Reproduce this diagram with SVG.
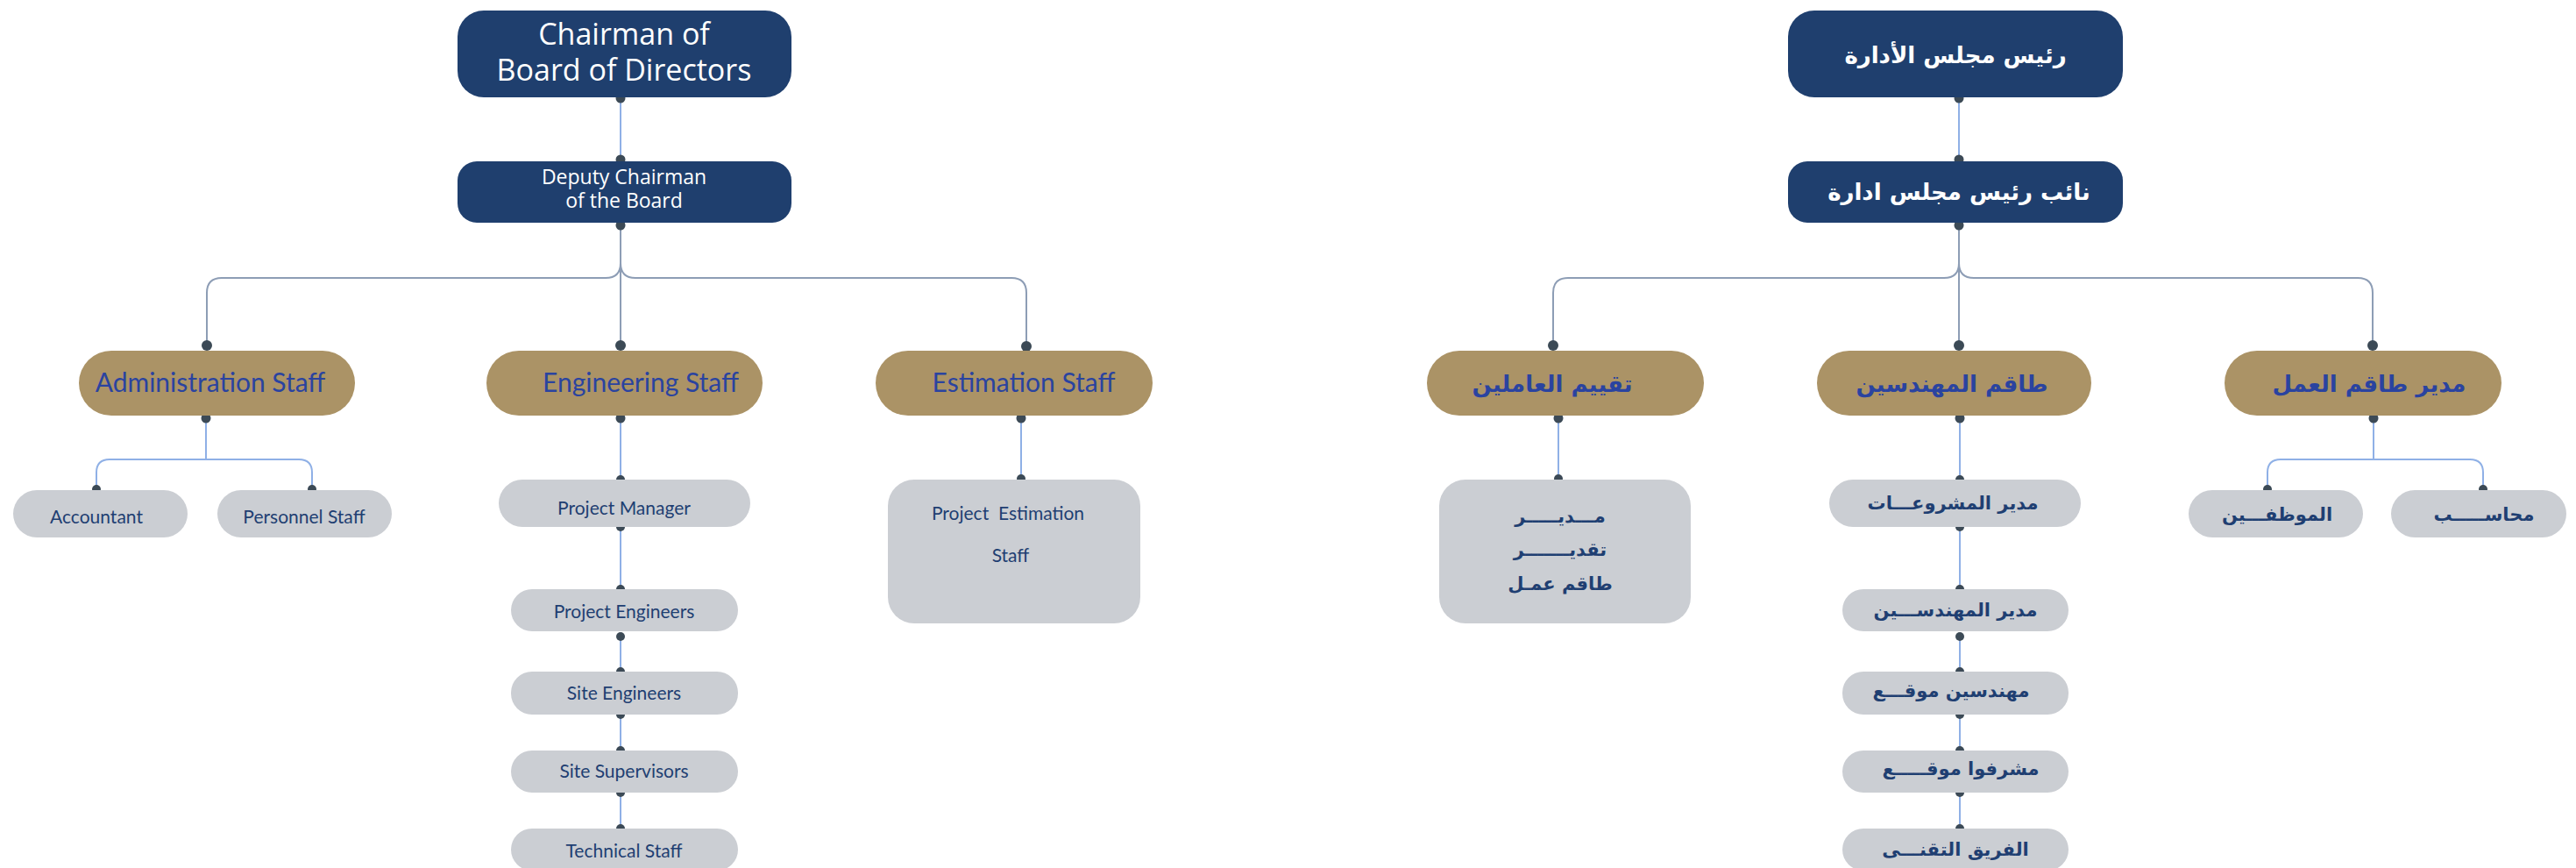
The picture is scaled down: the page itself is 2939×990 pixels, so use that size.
<svg xmlns="http://www.w3.org/2000/svg" width="2939" height="990" viewBox="0 0 2939 990">
<style>
.bg{fill:#ffffff}
.navy{fill:#1f3f6e}
.gold{fill:#ab9366}
.gray{fill:#cbced3}
.bus{fill:none;stroke:#8d9db5;stroke-width:2}
.sub{fill:none;stroke:#8fb0e6;stroke-width:2}
.dot{fill:#3c4a56}
.tw{fill:#ffffff;font-family:"Open Sans","Liberation Sans",sans-serif;text-anchor:middle}
.tg{fill:#2a43a0;font-family:Lato,"Liberation Sans",sans-serif;font-size:30px;text-anchor:middle}
.ts{fill:#1f3f72;font-family:Lato,"Liberation Sans",sans-serif;font-size:21px;text-anchor:middle}
.aw{fill:#ffffff;font-family:"DejaVu Sans",sans-serif;font-weight:bold;font-size:26px;text-anchor:middle}
.ag{fill:#2a43a0;font-family:"DejaVu Sans",sans-serif;font-weight:bold;font-size:26px;text-anchor:middle}
.as{fill:#1f3f72;font-family:"DejaVu Sans",sans-serif;font-weight:bold;font-size:21px;text-anchor:middle}
</style>
<rect class="bg" x="0" y="0" width="2939" height="990"/>
<g id="connectors">
  <!-- left tree -->
  <line class="sub" x1="708" y1="111" x2="708" y2="184"/>
  <path class="bus" d="M708,256 V395"/>
  <path class="bus" d="M708,300 Q708,317 691,317 H253 Q236,317 236,334 V395"/>
  <path class="bus" d="M708,300 Q708,317 725,317 H1154 Q1171,317 1171,334 V396"/>
  <path class="sub" d="M235,475 V524"/>
  <path class="sub" d="M110,557 V539 Q110,524 125,524 H341 Q356,524 356,539 V557"/>
  <path class="sub" d="M708,475 V547 M708,601 V672 M708,726 V766 M708,815 V856 M708,904 V945"/>
  <path class="sub" d="M1165,475 V547"/>
  <circle class="dot" cx="708" cy="112" r="5.5"/>
  <circle class="dot" cx="708" cy="182" r="5.5"/>
  <circle class="dot" cx="708" cy="257" r="5.5"/>
  <circle class="dot" cx="236" cy="394" r="6"/>
  <circle class="dot" cx="708" cy="394" r="6"/>
  <circle class="dot" cx="1171" cy="395" r="6"/>
  <circle class="dot" cx="235" cy="477" r="5.5"/>
  <circle class="dot" cx="708" cy="477" r="5.5"/>
  <circle class="dot" cx="1165" cy="477" r="5.5"/>
  <circle class="dot" cx="110" cy="558" r="5"/>
  <circle class="dot" cx="356" cy="558" r="5"/>
  <circle class="dot" cx="708" cy="547" r="5"/>
  <circle class="dot" cx="708" cy="601" r="5"/>
  <circle class="dot" cx="708" cy="672" r="5"/>
  <circle class="dot" cx="708" cy="726" r="5"/>
  <circle class="dot" cx="708" cy="766" r="5"/>
  <circle class="dot" cx="708" cy="815" r="5"/>
  <circle class="dot" cx="708" cy="856" r="5"/>
  <circle class="dot" cx="708" cy="904" r="5"/>
  <circle class="dot" cx="708" cy="945" r="5"/>
  <circle class="dot" cx="1165" cy="546" r="5"/>
  <!-- right tree -->
  <line class="sub" x1="2235" y1="111" x2="2235" y2="184"/>
  <path class="bus" d="M2235,256 V395"/>
  <path class="bus" d="M2235,300 Q2235,317 2218,317 H1789 Q1772,317 1772,334 V395"/>
  <path class="bus" d="M2235,300 Q2235,317 2252,317 H2690 Q2707,317 2707,334 V395"/>
  <path class="sub" d="M1778,475 V547"/>
  <path class="sub" d="M2236,475 V547 M2236,601 V672 M2236,726 V766 M2236,815 V856 M2236,904 V945"/>
  <path class="sub" d="M2708,475 V524"/>
  <path class="sub" d="M2587,557 V539 Q2587,524 2602,524 H2818 Q2833,524 2833,539 V557"/>
  <circle class="dot" cx="2235" cy="112" r="5.5"/>
  <circle class="dot" cx="2235" cy="182" r="5.5"/>
  <circle class="dot" cx="2235" cy="257" r="5.5"/>
  <circle class="dot" cx="1772" cy="394" r="6"/>
  <circle class="dot" cx="2235" cy="394" r="6"/>
  <circle class="dot" cx="2707" cy="394" r="6"/>
  <circle class="dot" cx="1778" cy="477" r="5.5"/>
  <circle class="dot" cx="2236" cy="477" r="5.5"/>
  <circle class="dot" cx="2708" cy="477" r="5.5"/>
  <circle class="dot" cx="1778" cy="546" r="5"/>
  <circle class="dot" cx="2587" cy="558" r="5"/>
  <circle class="dot" cx="2833" cy="558" r="5"/>
  <circle class="dot" cx="2236" cy="547" r="5"/>
  <circle class="dot" cx="2236" cy="601" r="5"/>
  <circle class="dot" cx="2236" cy="672" r="5"/>
  <circle class="dot" cx="2236" cy="726" r="5"/>
  <circle class="dot" cx="2236" cy="766" r="5"/>
  <circle class="dot" cx="2236" cy="815" r="5"/>
  <circle class="dot" cx="2236" cy="856" r="5"/>
  <circle class="dot" cx="2236" cy="904" r="5"/>
  <circle class="dot" cx="2236" cy="945" r="5"/>
</g>
<!-- English tree -->
<g id="chairman">
  <rect class="navy" x="522" y="12" width="381" height="99" rx="30"/>
  <text class="tw" x="712" y="51" font-size="34">Chairman of</text>
  <text class="tw" x="712" y="92" font-size="34">Board of Directors</text>
</g>
<g id="deputy">
  <rect class="navy" x="522" y="184" width="381" height="70" rx="22"/>
  <text class="tw" x="712" y="210" font-size="23">Deputy Chairman</text>
  <text class="tw" x="712" y="237" font-size="23">of the Board</text>
</g>
<g id="admin-staff">
  <rect class="gold" x="90" y="400" width="315" height="74" rx="37"/>
  <text class="tg" x="240" y="447">Administration Staff</text>
</g>
<g id="engineering-staff">
  <rect class="gold" x="555" y="400" width="315" height="74" rx="37"/>
  <text class="tg" x="731" y="447">Engineering Staff</text>
</g>
<g id="estimation-staff">
  <rect class="gold" x="999" y="400" width="316" height="74" rx="37"/>
  <text class="tg" x="1168" y="447">Estimation Staff</text>
</g>
<g id="accountant">
  <rect class="gray" x="15" y="559" width="199" height="54" rx="27"/>
  <text class="ts" x="110" y="597">Accountant</text>
</g>
<g id="personnel-staff">
  <rect class="gray" x="248" y="559" width="199" height="54" rx="27"/>
  <text class="ts" x="347" y="597">Personnel Staff</text>
</g>
<g id="project-manager">
  <rect class="gray" x="569" y="547" width="287" height="54" rx="27"/>
  <text class="ts" x="712" y="587">Project Manager</text>
</g>
<g id="project-engineers">
  <rect class="gray" x="583" y="672" width="259" height="48" rx="24"/>
  <text class="ts" x="712" y="705">Project Engineers</text>
</g>
<g id="site-engineers">
  <rect class="gray" x="583" y="766" width="259" height="49" rx="24"/>
  <text class="ts" x="712" y="798">Site Engineers</text>
</g>
<g id="site-supervisors">
  <rect class="gray" x="583" y="856" width="259" height="48" rx="24"/>
  <text class="ts" x="712" y="887">Site Supervisors</text>
</g>
<g id="technical-staff">
  <rect class="gray" x="583" y="945" width="259" height="48" rx="24"/>
  <text class="ts" x="712" y="978">Technical Staff</text>
</g>
<g id="project-estimation-staff">
  <rect class="gray" x="1013" y="547" width="288" height="164" rx="30"/>
  <text class="ts" x="1150" y="593" xml:space="preserve">Project  Estimation</text>
  <text class="ts" x="1153" y="641">Staff</text>
</g>
<!-- Arabic tree -->
<g id="ar-chairman">
  <rect class="navy" x="2040" y="12" width="382" height="99" rx="30"/>
  <text class="aw" x="2231" y="72">رئيس مجلس الأدارة</text>
</g>
<g id="ar-deputy">
  <rect class="navy" x="2040" y="184" width="382" height="70" rx="22"/>
  <text class="aw" x="2235" y="228">نائب رئيس مجلس ادارة</text>
</g>
<g id="ar-evaluation">
  <rect class="gold" x="1628" y="400" width="316" height="74" rx="37"/>
  <text class="ag" x="1771" y="447">تقييم العاملين</text>
</g>
<g id="ar-engineers">
  <rect class="gold" x="2073" y="400" width="313" height="74" rx="37"/>
  <text class="ag" x="2227" y="447">طاقم المهندسين</text>
</g>
<g id="ar-workforce-manager">
  <rect class="gold" x="2538" y="400" width="316" height="74" rx="37"/>
  <text class="ag" x="2703" y="447">مدير طاقم العمل</text>
</g>
<g id="ar-estimation-manager">
  <rect class="gray" x="1642" y="547" width="287" height="164" rx="30"/>
  <text class="as" x="1780" y="596">مـــديـــــر</text>
  <text class="as" x="1780" y="634">تقديـــــــر</text>
  <text class="as" x="1780" y="673">طاقم عمـل</text>
</g>
<g id="ar-project-manager">
  <rect class="gray" x="2087" y="547" width="287" height="54" rx="27"/>
  <text class="as" x="2228" y="581">مدير المشروعـــات</text>
</g>
<g id="ar-engineers-manager">
  <rect class="gray" x="2102" y="672" width="258" height="48" rx="24"/>
  <text class="as" x="2231" y="703">مدير المهندســـين</text>
</g>
<g id="ar-site-engineers">
  <rect class="gray" x="2102" y="766" width="258" height="49" rx="24"/>
  <text class="as" x="2226" y="795">مهندسين موقـــع</text>
</g>
<g id="ar-site-supervisors">
  <rect class="gray" x="2102" y="856" width="258" height="48" rx="24"/>
  <text class="as" x="2237" y="884">مشرفوا موقـــــع</text>
</g>
<g id="ar-technical-team">
  <rect class="gray" x="2102" y="945" width="258" height="48" rx="24"/>
  <text class="as" x="2231" y="976">الفريق التقنـــى</text>
</g>
<g id="ar-employees">
  <rect class="gray" x="2497" y="559" width="199" height="54" rx="27"/>
  <text class="as" x="2598" y="594">الموظفـــين</text>
</g>
<g id="ar-accountant">
  <rect class="gray" x="2728" y="559" width="200" height="54" rx="27"/>
  <text class="as" x="2834" y="594">محاســـــب</text>
</g>
</svg>
